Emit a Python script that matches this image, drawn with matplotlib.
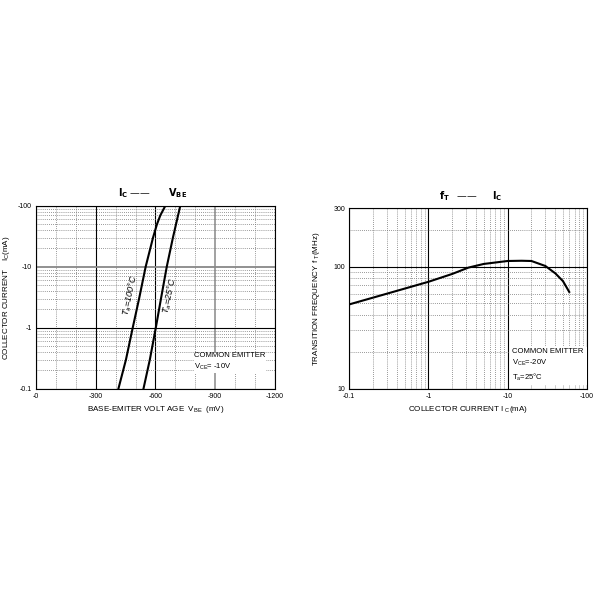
## Recreate the datasheet curves: Ic vs Vbe and fT vs Ic
import matplotlib
matplotlib.use("Agg")
import matplotlib.pyplot as plt
from matplotlib.ticker import LogLocator, NullFormatter, FixedLocator

plt.rcParams['font.family'] = ['Liberation Sans', 'DejaVu Sans']
plt.rcParams['mathtext.default'] = 'regular'

## Left chart data: collector current (mA, magnitude) vs base-emitter voltage (mV)
ic_100 = [0.1, 0.3, 1, 3, 10, 30, 50, 70, 100]
vbe_100 = [-414, -452, -486, -518, -551, -588, -608, -625, -650]
ic_25 = [0.1, 0.3, 1, 3, 10, 30, 100]
vbe_25 = [-540, -572, -602, -628, -657, -688, -725]
vbe_ticks = [0, -300, -600, -900, -1200]
vbe_ticklabels = ['-0', '-300', '-600', '-900', '-1200']
vbe_minor = [-100, -200, -400, -500, -700, -800, -1000, -1100]
ic_ticks = [0.1, 1, 10, 100]
ic_ticklabels = ['-0.1', '-1', '-10', '-100']

## Right chart data: transition frequency (MHz) vs collector current (mA)
ic_ft = [0.1, 0.3, 1, 2, 3.2, 5, 10, 15, 20, 30, 40, 50, 60]
ft = [49, 60, 75, 87, 98, 105, 111, 111.5, 111, 101, 88, 76, 62]
ict_ticks = [0.1, 1, 10, 100]
ict_ticklabels = ['-0.1', '-1', '-10', '-100']
ft_ticks = [10, 100, 300]
ft_ticklabels = ['10', '100', '300']

fig = plt.figure(figsize=(6, 6), dpi=100)
fig.patch.set_facecolor('white')

dot = dict(color='#777777', linestyle=(0, (1, 1.5)), linewidth=0.6)
solid = dict(color='black', linestyle='-', linewidth=0.8)
tick_fs = 5
lab_fs = 5.8

## ---- left chart ----
ax1 = fig.add_axes([0.06, 0.352, 0.398, 0.305])
ax1.set_yscale('log')
ax1.set_xlim(0, -1200)
ax1.set_ylim(0.1, 100)
ax1.set_xticks(vbe_ticks)
ax1.set_xticklabels(vbe_ticklabels)
ax1.set_yticks(ic_ticks)
ax1.set_yticklabels(ic_ticklabels)
ax1.xaxis.set_minor_locator(FixedLocator(vbe_minor))
ax1.yaxis.set_minor_locator(LogLocator(base=10, subs=range(2, 10)))
ax1.yaxis.set_minor_formatter(NullFormatter())
ax1.grid(which='minor', **dot)
ax1.grid(which='major', **solid)
ax1.tick_params(which='both', length=0, labelsize=tick_fs, pad=3)
# the -900 and -10 lines are printed grey and heavier
ax1.get_xgridlines()[3].set(color='#888888', linewidth=1.1)
ax1.get_ygridlines()[2].set(color='#888888', linewidth=1.3)

ax1.plot(vbe_100, ic_100, color='black', linewidth=1.5)
ax1.plot(vbe_25, ic_25, color='black', linewidth=1.5)

ax1.text(-472, 3.4, r'$T_a$=100°C', rotation=78, fontsize=6.5, ha='center', va='center',
         style='italic')
ax1.text(-673, 3.4, r'$T_a$=25°C', rotation=78, fontsize=6.5, ha='center', va='center',
         style='italic')
ax1.text(-795, 0.27, 'COMMON EMITTER\n' + r'$V_{CE}$= -10V', fontsize=5.5, ha='left',
         va='center', linespacing=1.4,
         bbox=dict(facecolor='white', edgecolor='none', pad=0.5))
ax1.set_xlabel(r'BASE-EMITER VOLT AGE  $V_{BE}$  (mV)', fontsize=lab_fs, labelpad=3)
ax1.set_ylabel(r'COLLECTOR CURRENT    $I_C$(mA)', fontsize=lab_fs, labelpad=4)
ax1.text(0.49, 1.03, r'$\mathbf{I_C}$ ——       $\mathbf{V_{BE}}$', transform=ax1.transAxes,
         fontsize=7, ha='center', va='bottom', fontweight='bold')

## ---- right chart ----
ax2 = fig.add_axes([0.582, 0.352, 0.396, 0.301])
ax2.set_xscale('log')
ax2.set_yscale('log')
ax2.set_xlim(0.1, 100)
ax2.set_ylim(10, 300)
ax2.set_xticks(ict_ticks)
ax2.set_xticklabels(ict_ticklabels)
ax2.set_yticks(ft_ticks)
ax2.set_yticklabels(ft_ticklabels)
ax2.xaxis.set_minor_locator(LogLocator(base=10, subs=range(2, 10)))
ax2.xaxis.set_minor_formatter(NullFormatter())
ax2.yaxis.set_minor_locator(LogLocator(base=10, subs=range(2, 10)))
ax2.yaxis.set_minor_formatter(NullFormatter())
ax2.grid(which='minor', **dot)
ax2.grid(which='major', **solid)
ax2.tick_params(which='both', length=0, labelsize=tick_fs, pad=3)

ax2.plot(ic_ft, ft, color='black', linewidth=1.5)

ax2.text(11.5, 15.5, 'COMMON EMITTER\n' + r'$V_{CE}$=-20V' + '\n' + r'$T_a$=25°C',
         fontsize=5.5, ha='left', va='center', linespacing=1.4,
         bbox=dict(facecolor='white', edgecolor='none', pad=2))
ax2.set_xlabel(r'COLLECTOR CURRENT I $_C$(mA)', fontsize=lab_fs, labelpad=3)
ax2.set_ylabel(r'TRANSITION FREQUENCY f $_T$(MHz)', fontsize=lab_fs, labelpad=8)
ax2.text(0.51, 1.03, r'$\mathbf{f_T}$   ——      $\mathbf{I_C}$', transform=ax2.transAxes,
         fontsize=7, ha='center', va='bottom', fontweight='bold')

fig.savefig('out.png', dpi=100, facecolor='white')
